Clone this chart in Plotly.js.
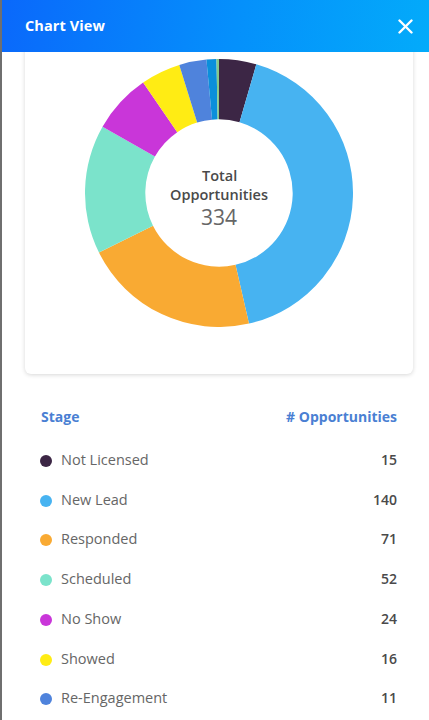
<!DOCTYPE html>
<html>
<head>
<meta charset="utf-8">
<script src="https://cdn.plot.ly/plotly-3.0.1.min.js"></script>
<style>
  html, body { margin: 0; padding: 0; width: 429px; height: 720px; overflow: hidden; background: #ffffff; font-family: "Open Sans", Lato, sans-serif; }
  .edge { position: absolute; left: 0; top: 0; width: 2px; height: 720px; background: #6f6f6f; z-index: 5; }
  .header { position: absolute; left: 0; top: 0; width: 429px; height: 52px; background: linear-gradient(100deg, #0a68fb 0%, #0590fb 55%, #03abfa 100%); z-index: 3; }
  .header .title { position: absolute; left: 25px; top: 16px; color: #ffffff; font-size: 14.5px; font-weight: 700; letter-spacing: 0.1px; }
  .header svg { position: absolute; left: 398px; top: 19px; }
  .card { position: absolute; left: 25px; top: 20px; width: 388px; height: 354px; background: #fff; border-radius: 6px; box-shadow: 0 1px 4px rgba(0,0,0,0.16); z-index: 1; }
  #donut { position: absolute; left: 85px; top: 59px; width: 268px; height: 268px; z-index: 2; }
  .table { position: absolute; left: 0; top: 0; width: 429px; }
  .hdr { position: absolute; color: #4a7fd3; font-weight: 700; font-size: 14px; }
  .row { position: absolute; left: 0; width: 429px; height: 20px; }
  .dot { position: absolute; left: 40px; width: 12px; height: 12px; border-radius: 50%; }
  .lbl { position: absolute; left: 61px; color: #666; font-size: 14.5px; }
  .val { position: absolute; right: 32px; color: #4a4a4a; font-size: 14px; font-weight: 600; }
</style>
</head>
<body>
<div class="edge"></div>
<div class="header">
  <div class="title">Chart View</div>
  <svg width="15" height="15" viewBox="0 0 15 15">
    <line x1="1.5" y1="1.5" x2="13.5" y2="13.5" stroke="#fff" stroke-width="2.4" stroke-linecap="round"/>
    <line x1="13.5" y1="1.5" x2="1.5" y2="13.5" stroke="#fff" stroke-width="2.4" stroke-linecap="round"/>
  </svg>
</div>
<div class="card"></div>
<div id="donut"></div>
<div class="table" id="table"></div>

<script>
// Pipeline stages and their opportunity counts
const stages = ["Not Licensed", "New Lead", "Responded", "Scheduled", "No Show", "Showed", "Re-Engagement", "Won", "Lost"];
const counts = [15, 140, 71, 52, 24, 16, 11, 4, 1];
const stageColors = ["#3c2645", "#47b3f1", "#f9aa33", "#7be3cb", "#c936d9", "#ffec14", "#4f83dc", "#0b8fdb", "#86c98a"];
const headers = ["Stage", "# Opportunities"];

const total = counts.reduce((a, b) => a + b, 0);

Plotly.newPlot("donut", [{
  type: "pie",
  labels: stages,
  values: counts,
  marker: { colors: stageColors, line: { width: 0 } },
  hole: 0.55,
  sort: false,
  direction: "clockwise",
  rotation: 0,
  textinfo: "none",
  hoverinfo: "none",
  showlegend: false
}], {
  width: 268,
  height: 268,
  margin: { l: 0, r: 0, t: 0, b: 0 },
  paper_bgcolor: "rgba(0,0,0,0)",
  plot_bgcolor: "rgba(0,0,0,0)",
  annotations: [
    { text: "Total", x: 0.5, y: 0.567, xref: "paper", yref: "paper", showarrow: false,
      font: { family: "Open Sans, sans-serif", size: 14.5, color: "#4a4a4a", weight: 600 } },
    { text: "Opportunities", x: 0.5, y: 0.496, xref: "paper", yref: "paper", showarrow: false,
      font: { family: "Open Sans, sans-serif", size: 14.5, color: "#4a4a4a", weight: 600 } },
    { text: String(total), x: 0.5, y: 0.41, xref: "paper", yref: "paper", showarrow: false,
      font: { family: "Open Sans, sans-serif", size: 21, color: "#666" } }
  ]
}, { staticPlot: true, displayModeBar: false });

// Stage list below the chart (rows that fit inside the panel)
const table = document.getElementById("table");
const h1 = document.createElement("div");
h1.className = "hdr"; h1.style.left = "41px"; h1.style.top = "407px"; h1.textContent = headers[0];
const h2 = document.createElement("div");
h2.className = "hdr"; h2.style.right = "32px"; h2.style.top = "407px"; h2.textContent = headers[1];
table.appendChild(h1); table.appendChild(h2);

stages.forEach((name, i) => {
  const cy = 461 + i * 39.7;
  if (cy + 10 > 720) return;
  const row = document.createElement("div");
  row.className = "row";
  row.style.top = (cy - 10) + "px";
  const dot = document.createElement("div");
  dot.className = "dot"; dot.style.top = "4px"; dot.style.background = stageColors[i];
  const lbl = document.createElement("div");
  lbl.className = "lbl"; lbl.style.top = "-1px"; lbl.textContent = name;
  const val = document.createElement("div");
  val.className = "val"; val.style.top = "-1px"; val.textContent = counts[i];
  row.appendChild(dot); row.appendChild(lbl); row.appendChild(val);
  table.appendChild(row);
});
</script>
</body>
</html>
